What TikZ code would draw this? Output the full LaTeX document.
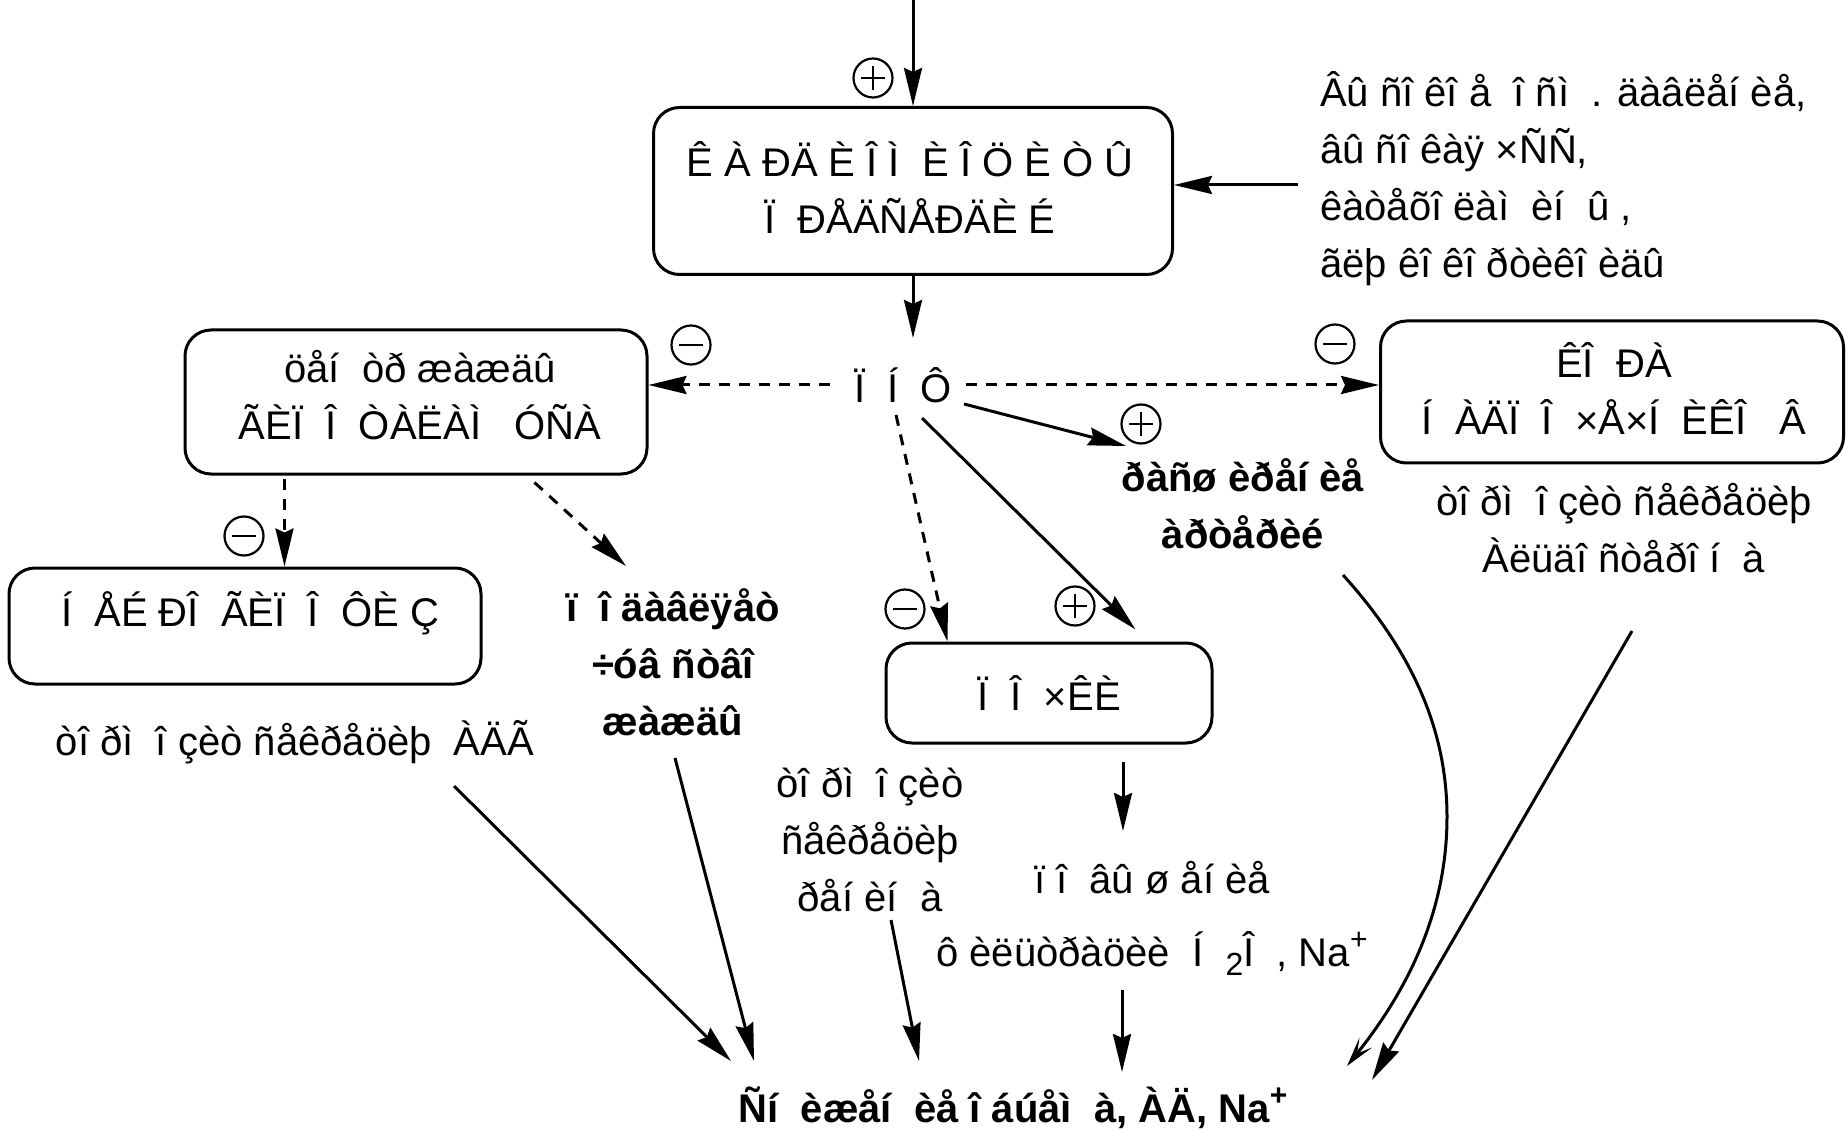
\documentclass[tikz,border=0pt]{standalone}
\usepackage{fontspec}
\setmainfont{Liberation Sans}
\usetikzlibrary{arrows.meta}
\newcommand\fsz{\fontsize{40}{57}\selectfont}
\newcommand\subsc[1]{\raisebox{-9pt}{\fontsize{32}{32}\selectfont #1}}
\newcommand\supsc[1]{\raisebox{17pt}{\fontsize{30}{30}\selectfont #1}}
\tikzset{
  box/.style={draw, line width=3pt, rounded corners=26pt, inner sep=0pt},
  txt/.style={font=\fsz, align=center, inner sep=0pt},
  arr/.style={line width=3pt, -{Stealth[length=38pt,width=18pt,inset=4pt]}},
  darr/.style={arr, dash pattern=on 11pt off 9pt},
  sgn/.style={circle, draw, line width=2.2pt, minimum size=39pt, inner sep=0pt},
  sgnplus/.style={sgn, path picture={
     \draw[line width=2.5pt] ([xshift=-12pt]path picture bounding box.center) -- ([xshift=12pt]path picture bounding box.center);
     \draw[line width=2.5pt] ([yshift=-12pt]path picture bounding box.center) -- ([yshift=12pt]path picture bounding box.center);}},
  sgnminus/.style={sgn, path picture={
     \draw[line width=2.5pt] ([xshift=-12pt]path picture bounding box.center) -- ([xshift=12pt]path picture bounding box.center);}},
}
\begin{document}
\begin{tikzpicture}[x=1pt,y=-1pt]
\useasboundingbox[fill=white] (0,0) rectangle (1848,1131);
% boxes
\node[box, minimum width=519pt, minimum height=167pt] (box1) at (913,191) {};
\node[box, minimum width=462pt, minimum height=144pt] (lbox) at (416,402) {};
\node[box, minimum width=463pt, minimum height=142pt] (rbox) at (1612,392) {};
\node[box, minimum width=472pt, minimum height=116pt] (neuro) at (245,626) {};
\node[box, minimum width=326pt, minimum height=100pt] (pochki) at (1049,693) {};
% texts
\node[txt] (box1t) at (910,188) {Ê À ÐÄ È Î Ì \ È Î Ö È Ò Û\\Ï \ ÐÅÄÑÅÐÄÈ É};
\node[txt, align=left, anchor=west] (factors) at (1320,179) {Âû ñî êî å \ î ñì \ . äàâëåí èå,\\âû ñî êàÿ ×ÑÑ,\\êàòåõî ëàì \ èí \ û ,\\ãëþ êî êî ðòèêî èäû};
\node[txt] (pnf) at (903,385) {Ï \ Í \ Ô};
\node[txt] (lboxt) at (420,395) {öåí \ òð æàæäû\\ÃÈÏ \ Î \ ÒÀËÀÌ \ \ ÓÑÀ};
\node[txt] (rboxt) at (1614,389) {ÊÎ \ ÐÀ\\Í \ ÀÄÏ \ Î \ ×Å×Í \ ÈÊÎ \ \ Â};
\node[txt] (aldo) at (1624,528) {òî ðì \ î çèò ñåêðåöèþ\\Àëüäî ñòåðî í \ à};
\node[txt, font=\fsz\bfseries] (ras) at (1243,504) {ðàñø èðåí èå\\àðòåðèé};
\node[txt] (neurot) at (250,613) {Í \ ÅÉ ÐÎ \ ÃÈÏ \ Î \ ÔÈ Ç};
\node[txt] (adg) at (295,742) {òî ðì \ î çèò ñåêðåöèþ \ ÀÄÃ};
\node[txt, font=\fsz\bfseries] (podav) at (673,662) {ï \ î äàâëÿåò\\÷óâ ñòâî\\æàæäû};
\node[txt] (pochkit) at (1049,693) {Ï \ Î \ ×ÊÈ};
\node[txt] (renin) at (870,840) {òî ðì \ î çèò\\ñåêðåöèþ\\ðåí èí \ à};
\node[txt] (povysh) at (1152,918) {ï î \ âû ø åí èå\\[16pt]ô èëüòðàöèè \ Í \ \subsc{2}Î \ , Na\supsc{+}};
\node[txt, font=\fsz\bfseries] (bottom) at (1013,1108) {Ñí \ èæåí \ èå î áúåì \ à, ÀÄ, Na\supsc{+}};
% signs
\node[sgnplus] (p1) at (873,78) {};
\node[sgnminus] (m1) at (691,345) {};
\node[sgnminus] (m2) at (1335,344) {};
\node[sgnplus] (p2) at (1141,424) {};
\node[sgnminus] (m3) at (905,609) {};
\node[sgnplus] (p3) at (1075,606) {};
\node[sgnminus] (m4) at (244,536) {};
% connectors
\coordinate (topin) at (913,0);
\draw[arr] (topin) -- (box1.north);
\coordinate (fromR) at (1298,185);
\draw[arr] (fromR) -- (fromR -| box1.east);
\coordinate (pnftop) at ([shift={(0,-47)}]pnf.center);
\draw[arr] (box1.south) -- (box1.south |- pnftop);
\coordinate (pnfL) at ([shift={(-73,0)}]pnf.center);
\draw[darr] (pnfL) -- (pnfL -| lbox.east);
\coordinate (pnfR) at ([shift={(63,0)}]pnf.center);
\draw[darr] (pnfR) -- (pnfR -| rbox.west);
\draw[arr] ([shift={(61,19)}]pnf.center) -- ([shift={(-117,-58)}]ras.center);
\draw[darr] ([shift={(-7,30)}]pnf.center) -- ([shift={(63,0)}]pochki.north west);
\draw[arr] ([shift={(19,33)}]pnf.center) -- ([shift={(251,-12)}]pochki.north west);
\coordinate (lboxS) at ([shift={(101,3)}]lbox.south west);
\draw[darr] (lboxS) -- (lboxS |- neuro.north);
\draw[darr] ([shift={(351,7)}]lbox.south west) -- ([shift={(-47,-96)}]podav.center);
\draw[arr] ([shift={(74,17)}]pochki.south) -- ([shift={(-29,-87)}]povysh.center);
\draw[arr] ([shift={(-30,72)}]povysh.center) -- ([shift={(109,-36)}]bottom.center);
\draw[arr] ([shift={(159,44)}]adg.center) -- ([shift={(-282,-47)}]bottom.center);
\draw[arr] ([shift={(2,96)}]podav.center) -- ([shift={(-259,-47)}]bottom.center);
\draw[arr] ([shift={(21,80)}]renin.center) -- ([shift={(-94,-47)}]bottom.center);
\draw[line width=3pt, -{Stealth[length=30pt,width=16pt,inset=14pt]}] ([shift={(100,71)}]ras.center) .. controls (1420,660) and (1447,740) .. (1447,817) .. controls (1447,920) and (1400,1000) .. ([shift={(334,-42)}]bottom.center);
\draw[arr] ([shift={(8,103)}]aldo.center) -- ([shift={(359,-28)}]bottom.center);
\end{tikzpicture}
\end{document}
